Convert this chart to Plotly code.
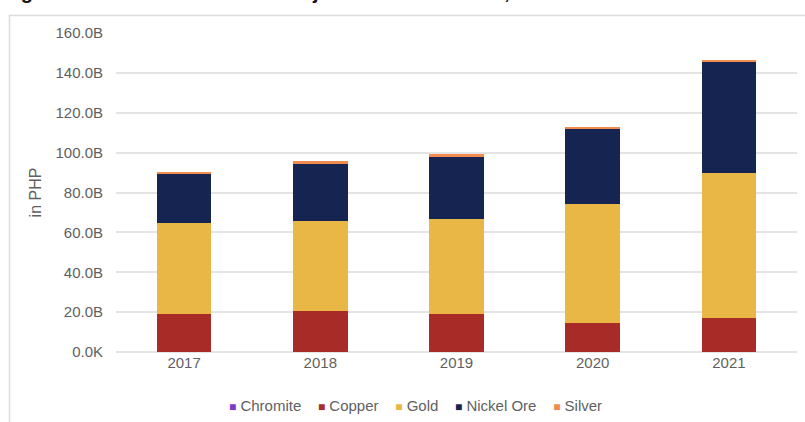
import plotly.graph_objects as go

# Production value by year, in billions of PHP
years = ["2017", "2018", "2019", "2020", "2021"]
chromite = [0.05, 0.05, 0.05, 0.05, 0.05]
copper = [19.0, 20.5, 18.8, 14.5, 17.0]
gold = [45.6, 45.1, 47.8, 59.7, 72.6]
nickel_ore = [24.7, 28.8, 31.3, 37.6, 55.9]
silver = [1.1, 1.5, 1.2, 1.1, 0.8]

series_names = ["Chromite", "Copper", "Gold", "Nickel Ore", "Silver"]
series_values = [chromite, copper, gold, nickel_ore, silver]
series_colors = ["#7E3AC8", "#A92B27", "#E8B746", "#162452", "#F08C50"]

tick_vals = [0, 20, 40, 60, 80, 100, 120, 140, 160]
tick_text = ["0.0K", "20.0B", "40.0B", "60.0B", "80.0B", "100.0B", "120.0B", "140.0B", "160.0B"]

FONT = "Liberation Sans, Arial, sans-serif"
GREY = "#5f5f5f"

fig = go.Figure()
for name, vals, color in zip(series_names, series_values, series_colors):
    fig.add_trace(go.Bar(
        x=years, y=vals, name=name,
        marker=dict(color=color, line=dict(width=0)),
        showlegend=False,
    ))

W, H = 805, 422
ML, MR, MT, MB = 116, 8, 33, 70
pw, ph = W - ML - MR, H - MT - MB


def px_x(p):
    return (p - ML) / pw


def px_y(p):
    return (H - MB - p) / ph


# compact legend row built from the series names and colours
legend_parts = []
for name, color in zip(series_names, series_colors):
    legend_parts.append(
        f"<span style='color:{color};font-size:12px'>■</span>\u00a0{name}"
    )
legend_text = "\u00a0\u00a0\u00a0\u00a0".join(legend_parts)

fig.update_layout(
    width=W, height=H,
    margin=dict(l=ML, r=MR, t=MT, b=MB),
    paper_bgcolor="white", plot_bgcolor="white",
    barmode="stack", bargap=0.6,
    font=dict(family=FONT, size=15, color=GREY),
    showlegend=False,
    xaxis=dict(
        showgrid=False, showline=False, ticks="",
        tickfont=dict(size=15, color=GREY),
    ),
    yaxis=dict(
        range=[0, 160], tickvals=tick_vals, ticktext=tick_text,
        showgrid=True, gridcolor="#e4e4e4", gridwidth=1.5,
        zeroline=True, zerolinecolor="#e4e4e4", zerolinewidth=1.5,
        showline=False, ticks="", ticklabelstandoff=12,
        tickfont=dict(size=15, color=GREY),
        title=dict(text="in PHP", font=dict(size=16, color=GREY), standoff=9),
    ),
    shapes=[
        dict(type="rect", xref="paper", yref="paper",
             x0=px_x(9.5), x1=1.2, y0=-0.4, y1=px_y(15.5),
             line=dict(color="#dcdcdc", width=1.5), layer="below"),
    ],
    annotations=[
        dict(text=legend_text, xref="paper", yref="paper",
             x=px_x(415), y=px_y(405), xanchor="center", yanchor="middle",
             showarrow=False, font=dict(size=15, color=GREY)),
        dict(text="<b>Figure 1. Production Value of Major Metallic Minerals, 2017-2021</b>",
             xref="paper", yref="paper", x=px_x(1), y=px_y(5),
             xanchor="left", yanchor="bottom", showarrow=False,
             font=dict(size=20, color="#111111", family=FONT)),
    ],
)

fig.write_html("out.html")
